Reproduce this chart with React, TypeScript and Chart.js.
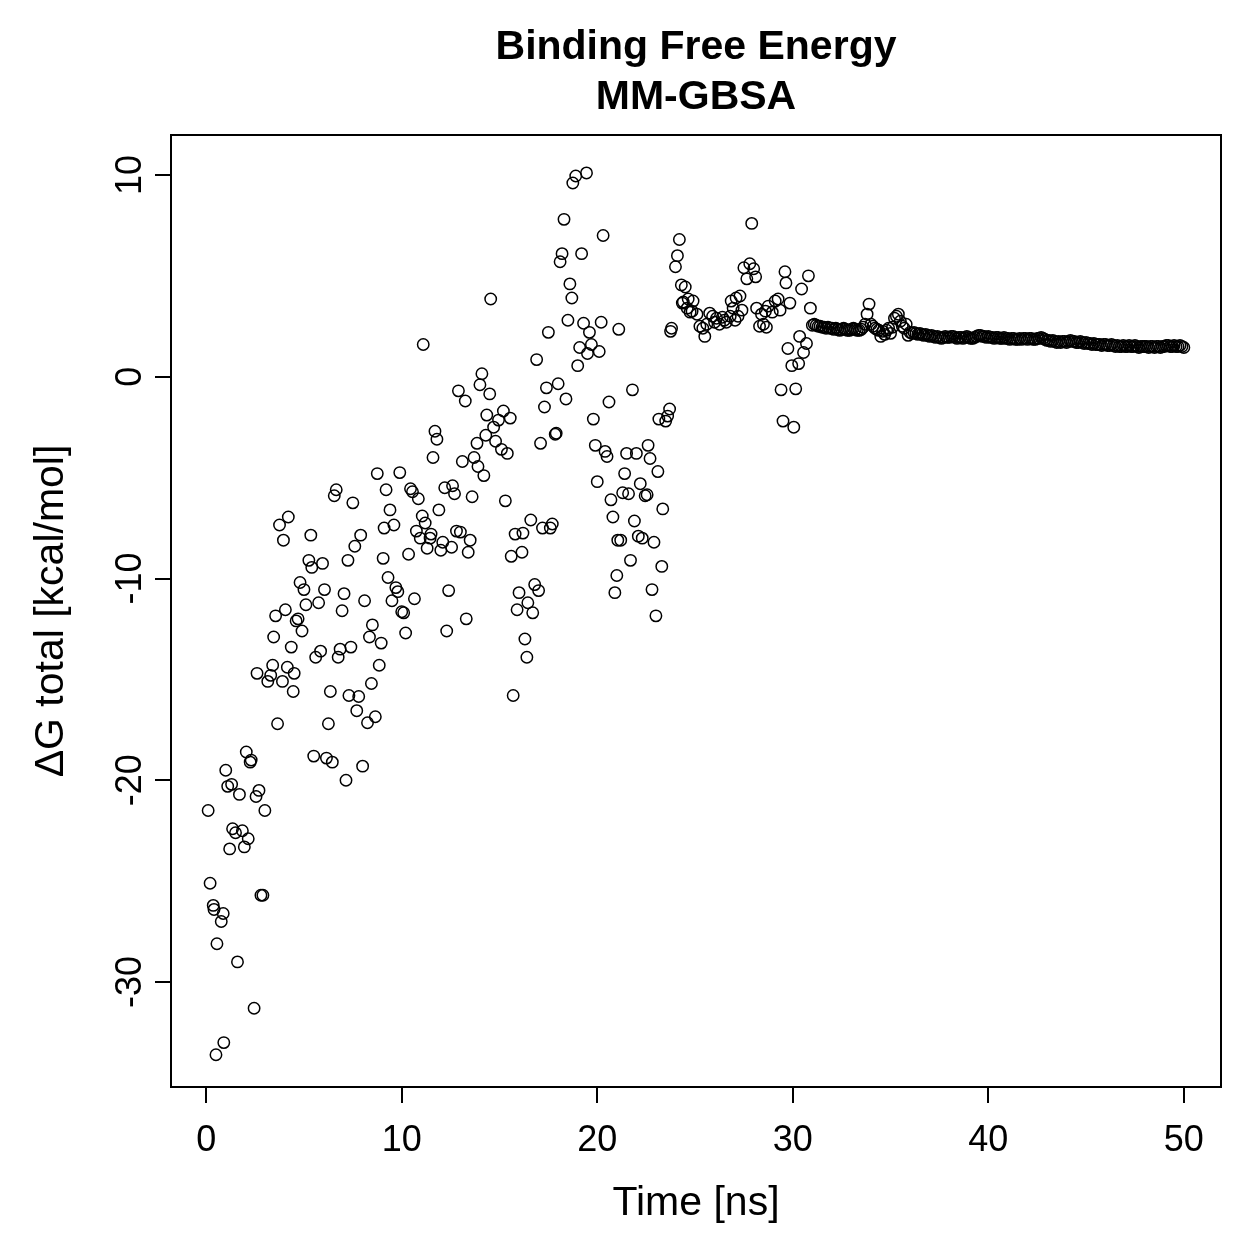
import { useEffect, useRef } from "react";
import { Chart, registerables } from "chart.js";

Chart.register(...registerables);

const TITLE_LINES = ["Binding Free Energy", "MM-GBSA"];
const X_LABEL = "Time [ns]";
const Y_LABEL = "ΔG total [kcal/mol]";
const Y_TICK_VALUES = [-30, -20, -10, 0, 10];

// [time (ns), ΔG (kcal/mol)]
const phase0to5: [number, number][] = [
  [0.1, -21.5], [0.2, -25.1], [0.36, -26.2], [0.4, -26.4], [0.5, -33.6], [0.55, -28.1], [0.77, -27.0], [0.87, -26.6],
  [0.9, -33.0], [1.0, -19.5], [1.1, -20.3], [1.2, -23.4], [1.3, -20.2], [1.35, -22.4], [1.5, -22.6], [1.6, -29.0],
  [1.7, -20.7], [1.85, -22.5], [1.95, -23.3], [2.05, -18.6], [2.15, -22.9], [2.25, -19.1], [2.3, -19.0], [2.45, -31.3],
  [2.55, -20.8], [2.6, -14.7], [2.7, -20.5], [2.8, -25.7], [2.9, -25.7], [3.0, -21.5], [3.15, -15.1], [3.3, -14.8],
  [3.4, -14.3], [3.45, -12.9], [3.55, -11.85], [3.65, -17.2], [3.75, -7.35], [3.9, -15.1], [3.95, -8.1], [4.05, -11.55],
  [4.15, -14.4], [4.2, -6.95], [4.35, -13.4], [4.45, -15.6], [4.5, -14.7], [4.6, -12.1], [4.7, -12.0], [4.8, -10.2],
  [4.9, -12.6], [5.0, -10.55],
];

const phase5to11: [number, number][] = [
  [5.1, -11.3], [5.25, -9.1], [5.35, -7.85], [5.4, -9.45], [5.5, -18.8], [5.6, -13.9], [5.75, -11.2], [5.85, -13.6],
  [5.95, -9.25], [6.05, -10.55], [6.15, -18.9], [6.25, -17.2], [6.35, -15.6], [6.45, -19.1], [6.55, -5.9], [6.65, -5.6],
  [6.75, -13.9], [6.85, -13.5], [6.95, -11.6], [7.05, -10.75], [7.15, -20.0], [7.25, -9.1], [7.3, -15.8], [7.4, -13.4],
  [7.5, -6.25], [7.6, -8.4], [7.7, -16.55], [7.8, -15.85], [7.9, -7.85], [8.0, -19.3], [8.1, -11.1], [8.25, -17.15],
  [8.35, -12.9], [8.45, -15.2], [8.5, -12.3], [8.65, -16.85], [8.75, -4.8], [8.85, -14.3], [8.95, -13.2], [9.05, -9.0],
  [9.1, -7.5], [9.2, -5.6], [9.3, -9.95], [9.4, -6.6], [9.5, -11.1], [9.6, -7.35], [9.7, -10.45], [9.8, -10.65],
  [9.9, -4.75], [10.0, -11.65], [10.1, -11.7], [10.2, -12.7], [10.35, -8.8], [10.45, -5.55], [10.55, -5.7], [10.65, -11.0],
  [10.75, -7.65], [10.85, -6.05], [10.95, -8.0],
];

const phase11to17: [number, number][] = [
  [11.05, -6.9], [11.1, 1.6], [11.2, -7.25], [11.3, -8.5], [11.45, -8.0], [11.5, -7.8], [11.6, -4.0], [11.7, -2.7],
  [11.8, -3.1], [11.9, -6.6], [12.0, -8.6], [12.1, -8.2], [12.2, -5.5], [12.3, -12.6], [12.4, -10.6], [12.55, -8.45],
  [12.6, -5.4], [12.7, -5.8], [12.8, -7.65], [12.9, -0.7], [13.0, -7.7], [13.1, -4.2], [13.25, -1.2], [13.3, -12.0],
  [13.4, -8.7], [13.5, -8.1], [13.6, -5.95], [13.7, -4.0], [13.85, -3.3], [13.9, -4.45], [14.0, -0.4], [14.1, 0.15],
  [14.2, -4.9], [14.3, -2.9], [14.35, -1.9], [14.5, -0.85], [14.55, 3.85], [14.7, -2.5], [14.8, -3.2], [14.95, -2.15],
  [15.1, -3.6], [15.2, -1.7], [15.3, -6.15], [15.4, -3.8], [15.55, -2.05], [15.6, -8.9], [15.7, -15.8], [15.8, -7.8],
  [15.9, -11.55], [16.0, -10.7], [16.15, -8.7], [16.2, -7.75], [16.3, -13.0], [16.4, -13.9], [16.45, -11.2], [16.6, -7.1],
  [16.7, -11.7], [16.8, -10.3], [16.9, 0.85], [17.0, -10.6],
];

const phase17to24: [number, number][] = [
  [17.1, -3.3], [17.2, -7.5], [17.3, -1.5], [17.4, -0.55], [17.5, 2.2], [17.6, -7.5], [17.7, -7.3], [17.85, -2.85],
  [17.9, -2.8], [18.0, -0.35], [18.1, 5.7], [18.2, 6.1], [18.3, 7.8], [18.4, -1.1], [18.5, 2.8], [18.6, 4.6],
  [18.7, 3.9], [18.75, 9.6], [18.9, 9.95], [19.0, 0.55], [19.1, 1.45], [19.2, 6.1], [19.3, 2.65], [19.45, 10.1],
  [19.5, 1.15], [19.6, 2.2], [19.7, 1.6], [19.8, -2.1], [19.9, -3.4], [20.0, -5.2], [20.1, 1.25], [20.2, 2.7],
  [20.3, 7.0], [20.4, -3.7], [20.5, -3.95], [20.6, -1.25], [20.7, -6.1], [20.8, -6.95], [20.9, -10.7], [21.0, -9.85],
  [21.05, -8.1], [21.1, 2.35], [21.2, -8.1], [21.3, -5.75], [21.4, -4.8], [21.5, -3.8], [21.6, -5.8], [21.7, -9.1],
  [21.8, -0.65], [21.9, -7.15], [22.0, -3.8], [22.1, -7.9], [22.2, -5.3], [22.3, -8.0], [22.45, -5.9], [22.55, -5.85],
  [22.6, -3.4], [22.7, -4.05], [22.8, -10.55], [22.9, -8.2], [23.0, -11.85], [23.1, -4.7], [23.15, -2.1], [23.3, -9.4],
  [23.35, -6.55], [23.5, -2.2], [23.6, -1.95], [23.7, -1.6], [23.75, 2.25], [23.8, 2.4], [24.0, 5.45], [24.1, 6.0],
  [24.2, 6.8],
];

const phase24to31: [number, number][] = [
  [24.3, 4.55], [24.35, 3.65], [24.4, 3.7], [24.5, 4.45], [24.6, 3.4], [24.65, 3.85], [24.75, 3.2], [24.85, 3.25],
  [24.9, 3.75], [25.1, 3.1], [25.25, 2.5], [25.4, 2.4], [25.5, 2.0], [25.6, 2.6], [25.75, 3.15], [25.9, 3.0],
  [26.0, 2.7], [26.1, 2.9], [26.25, 2.6], [26.4, 2.95], [26.5, 2.8], [26.6, 2.7], [26.8, 3.0], [26.85, 3.75],
  [26.95, 3.4], [27.05, 2.8], [27.1, 3.9], [27.2, 3.0], [27.3, 4.0], [27.4, 3.3], [27.5, 5.4], [27.65, 4.85],
  [27.8, 5.6], [27.9, 7.6], [28.0, 5.35], [28.1, 4.95], [28.15, 3.4], [28.3, 2.5], [28.4, 3.1], [28.5, 2.6],
  [28.6, 3.25], [28.65, 2.45], [28.75, 3.5], [28.95, 3.2], [29.1, 3.75], [29.25, 3.85], [29.35, 3.3], [29.4, -0.65],
  [29.5, -2.2], [29.6, 5.2], [29.65, 4.65], [29.75, 1.4], [29.85, 3.65], [29.95, 0.55], [30.05, -2.5], [30.15, -0.6],
  [30.3, 0.65], [30.35, 2.0], [30.45, 4.35], [30.55, 1.2], [30.7, 1.65], [30.8, 5.0], [30.9, 3.4],
];

const plateauTimes: number[] = [
  31.0, 31.1, 31.2, 31.3, 31.4, 31.5, 31.6, 31.7, 31.8, 31.9,
  32.0, 32.1, 32.2, 32.3, 32.4, 32.5, 32.6, 32.7, 32.8, 32.9,
  33.0, 33.1, 33.2, 33.3, 33.4, 33.5, 33.6, 33.7, 33.8, 33.9,
  34.0, 34.1, 34.2, 34.3, 34.4, 34.5, 34.6, 34.7, 34.8, 34.9,
  35.0, 35.1, 35.2, 35.3, 35.4, 35.5, 35.6, 35.7, 35.8, 35.9,
  36.0, 36.1, 36.2, 36.3, 36.4, 36.5, 36.6, 36.7, 36.8, 36.9,
  37.0, 37.1, 37.2, 37.3, 37.4, 37.5, 37.6, 37.7, 37.8, 37.9,
  38.0, 38.1, 38.2, 38.3, 38.4, 38.5, 38.6, 38.7, 38.8, 38.9,
  39.0, 39.1, 39.2, 39.3, 39.4, 39.5, 39.6, 39.7, 39.8, 39.9,
  40.0, 40.1, 40.2, 40.3, 40.4, 40.5, 40.6, 40.7, 40.8, 40.9,
  41.0, 41.1, 41.2, 41.3, 41.4, 41.5, 41.6, 41.7, 41.8, 41.9,
  42.0, 42.1, 42.2, 42.3, 42.4, 42.5, 42.6, 42.7, 42.8, 42.9,
  43.0, 43.1, 43.2, 43.3, 43.4, 43.5, 43.6, 43.7, 43.8, 43.9,
  44.0, 44.1, 44.2, 44.3, 44.4, 44.5, 44.6, 44.7, 44.8, 44.9,
  45.0, 45.1, 45.2, 45.3, 45.4, 45.5, 45.6, 45.7, 45.8, 45.9,
  46.0, 46.1, 46.2, 46.3, 46.4, 46.5, 46.6, 46.7, 46.8, 46.9,
  47.0, 47.1, 47.2, 47.3, 47.4, 47.5, 47.6, 47.7, 47.8, 47.9,
  48.0, 48.1, 48.2, 48.3, 48.4, 48.5, 48.6, 48.7, 48.8, 48.9,
  49.0, 49.1, 49.2, 49.3, 49.4, 49.5, 49.6, 49.7, 49.8, 49.9,
  50.0,
];

const plateauValues: number[] = [
  2.55, 2.6, 2.55, 2.5, 2.5, 2.45, 2.45, 2.4, 2.45, 2.4,
  2.4, 2.35, 2.4, 2.35, 2.3, 2.35, 2.4, 2.35, 2.3, 2.3,
  2.35, 2.4, 2.35, 2.3, 2.3, 2.35, 2.45, 2.6, 3.1, 3.6,
  2.6, 2.5, 2.4, 2.35, 2.3, 2.0, 2.25, 2.1, 2.3, 2.4,
  2.15, 2.45, 2.9, 3.0, 3.1, 2.75, 2.5, 2.4, 2.6, 2.05,
  2.2, 2.15, 2.2, 2.15, 2.1, 2.15, 2.1, 2.05, 2.1, 2.05,
  2.0, 2.05, 2.0, 1.95, 2.0, 1.95, 1.9, 1.95, 2.0, 1.95,
  1.95, 2.0, 2.0, 1.95, 1.9, 1.95, 1.95, 1.9, 1.95, 2.0,
  1.95, 1.9, 1.9, 1.95, 2.0, 2.05, 2.05, 2.0, 2.0, 1.95,
  2.0, 1.95, 1.95, 1.9, 1.95, 1.95, 1.9, 1.9, 1.95, 1.9,
  1.9, 1.85, 1.9, 1.9, 1.85, 1.85, 1.9, 1.85, 1.9, 1.9,
  1.85, 1.9, 1.9, 1.85, 1.85, 1.9, 1.9, 1.95, 1.9, 1.85,
  1.8, 1.8, 1.75, 1.8, 1.75, 1.7, 1.75, 1.7, 1.75, 1.75,
  1.7, 1.75, 1.8, 1.75, 1.75, 1.7, 1.7, 1.75, 1.7, 1.65,
  1.7, 1.65, 1.65, 1.6, 1.65, 1.6, 1.6, 1.6, 1.55, 1.6,
  1.6, 1.55, 1.55, 1.6, 1.55, 1.5, 1.55, 1.5, 1.5, 1.55,
  1.5, 1.5, 1.55, 1.5, 1.5, 1.55, 1.5, 1.45, 1.5, 1.5,
  1.5, 1.5, 1.45, 1.5, 1.5, 1.45, 1.5, 1.5, 1.45, 1.5,
  1.5, 1.55, 1.55, 1.5, 1.5, 1.55, 1.5, 1.5, 1.55, 1.5,
  1.45,
];

const FONT = '"Liberation Sans", Arial, Helvetica, sans-serif';
const TICK_FONT_SIZE = 36;
const LABEL_FONT_SIZE = 41;
const TITLE_FONT_SIZE = 41;

const decorPlugin = {
  id: "rDecor",
  afterDraw(chart: any) {
    const { ctx, chartArea: a } = chart;
    ctx.save();
    ctx.strokeStyle = "#000";
    ctx.lineWidth = 2;
    ctx.strokeRect(a.left, a.top, a.right - a.left, a.bottom - a.top);
    ctx.fillStyle = "#000";
    ctx.textAlign = "center";
    ctx.textBaseline = "alphabetic";
    const cx = (a.left + a.right) / 2;
    ctx.font = `bold ${TITLE_FONT_SIZE}px ${FONT}`;
    ctx.fillText(TITLE_LINES[0], cx, 59);
    ctx.fillText(TITLE_LINES[1], cx, 109);
    ctx.font = `${LABEL_FONT_SIZE}px ${FONT}`;
    ctx.fillText(X_LABEL, cx, 1215);
    ctx.save();
    ctx.translate(63, (a.top + a.bottom) / 2);
    ctx.rotate(-Math.PI / 2);
    ctx.fillText(Y_LABEL, 0, 0);
    ctx.restore();
    ctx.font = `${TICK_FONT_SIZE}px ${FONT}`;
    const ys = chart.scales.y;
    for (const v of Y_TICK_VALUES) {
      const py = ys.getPixelForValue(v);
      ctx.save();
      ctx.translate(141, py);
      ctx.rotate(-Math.PI / 2);
      ctx.fillText(String(v), 0, 0);
      ctx.restore();
    }
    ctx.restore();
  },
};

export default function App() {
  const ref = useRef<HTMLCanvasElement | null>(null);
  useEffect(() => {
    if (!ref.current) return;
    const pts = [
      ...phase0to5,
      ...phase5to11,
      ...phase11to17,
      ...phase17to24,
      ...phase24to31,
    ].map(([x, y]) => ({ x, y }));
    plateauTimes.forEach((t, i) => pts.push({ x: t, y: plateauValues[i] }));

    const chart = new Chart(ref.current, {
      type: "scatter",
      data: {
        datasets: [
          {
            data: pts,
            pointStyle: "circle",
            pointRadius: 5.7,
            pointHoverRadius: 5.7,
            borderWidth: 1.5,
            borderColor: "#000",
            backgroundColor: "rgba(0,0,0,0)",
            showLine: false,
          },
        ],
      },
      options: {
        responsive: false,
        animation: false,
        devicePixelRatio: 1,
        events: [],
        layout: { padding: { top: 135, right: 38, left: 0, bottom: 0 } },
        plugins: { legend: { display: false }, title: { display: false }, tooltip: { enabled: false } },
        scales: {
          x: {
            type: "linear",
            min: -1.8,
            max: 51.9,
            afterFit: (s: any) => {
              s.height = 172;
            },
            ticks: {
              stepSize: 10,
              includeBounds: false,
              color: "#000",
              font: { size: TICK_FONT_SIZE, family: FONT },
              padding: 16,
              maxRotation: 0,
            },
            grid: { drawOnChartArea: false, drawTicks: true, tickLength: 16, color: "#000", lineWidth: 2 },
            border: { display: true, color: "#000", width: 2 },
          },
          y: {
            type: "linear",
            min: -35.2,
            max: 11.98,
            afterFit: (s: any) => {
              s.width = 171;
            },
            ticks: {
              stepSize: 10,
              includeBounds: false,
              color: "rgba(0,0,0,0)",
              font: { size: TICK_FONT_SIZE, family: FONT },
            },
            grid: { drawOnChartArea: false, drawTicks: true, tickLength: 16, color: "#000", lineWidth: 2 },
            border: { display: true, color: "#000", width: 2 },
          },
        },
      },
      plugins: [decorPlugin],
    });
    return () => chart.destroy();
  }, []);

  return (
    <canvas
      ref={ref}
      width={1259}
      height={1259}
      style={{ position: "fixed", left: 0, top: 0, display: "block", background: "#fff" }}
    />
  );
}
